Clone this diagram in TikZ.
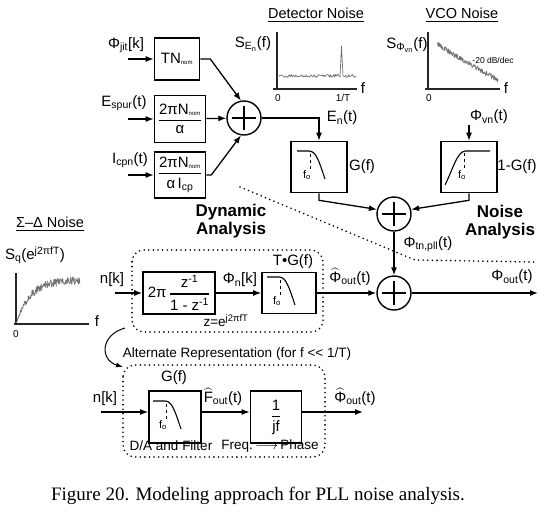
\documentclass[tikz,border=0pt]{standalone}
\usepackage{fontspec}
\setmainfont{Liberation Sans}
\newfontfamily\capfont{Liberation Serif}
\usepackage{amsmath}
\usetikzlibrary{arrows.meta}

\begin{document}
\begin{tikzpicture}[x=1pt, y=-1pt,
    every node/.style={inner sep=1pt, font=\fontsize{15}{17}\selectfont},
    blk/.style={draw, line width=1.6pt, inner sep=0pt},
    sumnode/.style={circle, draw, line width=1.4pt, minimum size=34pt, inner sep=0pt,
        path picture={\draw[line width=1.1pt]
            ([xshift=-12pt]path picture bounding box.center) -- ([xshift=12pt]path picture bounding box.center)
            ([yshift=-12pt]path picture bounding box.center) -- ([yshift=12pt]path picture bounding box.center);}},
    arr/.style={-{Latex[length=8pt,width=6pt]}, line width=1.3pt},
    thinarr/.style={-{Latex[length=7pt,width=5pt]}, line width=1pt},
    dotline/.style={line width=1.8pt, line cap=round, dash pattern=on 0pt off 4.6pt},
    axline/.style={line width=1.1pt, black!85},
    noisy/.style={black!55, line width=0.7pt, line join=round},
    ttl/.style={font=\fontsize{14.5}{16}\selectfont},
    smtxt/.style={font=\fontsize{13.5}{15}\selectfont},
    tinytxt/.style={font=\fontsize{10}{12}\selectfont},
    boldtxt/.style={font=\fontsize{17}{18}\selectfont\bfseries, align=center},
    lowpass/.pic={
        \draw[line width=1.1pt] (-22,-16) -- (-10,-16) .. controls (-3,-16) and (0,-6) .. (6,12);
        \draw[dashed, line width=0.6pt] (-9,-13) -- (-9,2);
        \node[font=\fontsize{11}{12}\selectfont] (-fo) at (-12,8) {f\textsubscript{o}};
    },
    highpass/.pic={
        \draw[line width=1.1pt] (-24,18) .. controls (-16,2) and (-12,-15) .. (-4,-16) -- (21,-16);
        \draw[dashed, line width=0.6pt] (-5,-14) -- (-5,1);
        \node[font=\fontsize{11}{12}\selectfont] (-fo) at (-7,8) {f\textsubscript{o}};
    }]
\useasboundingbox (0,0) rectangle (549,515);
\pgfmathsetseed{11}

% spectra
\node[ttl] (tdet) at (316,15) {\underline{Detector Noise}};
\node[ttl] (tvco) at (462,15) {\underline{VCO Noise}};
\node[ttl] (tsd) at (50,224) {\underline{Σ–Δ Noise}};

\draw[axline] (277,32) -- (277,89);
\draw[axline] (273,89) -- (357,89);
\node (f1) at (363,88) {f};
\node[tinytxt] (z1) at (278,98) {0};
\node[tinytxt] (t1) at (343,98) {1/T};
\node (sen) at (253,44) {S\textsubscript{E\textsubscript{n}}(f)};
\draw[noisy] plot[domain=279:340, samples=70] (\x,{76+1.6*rand}) -- (341.5,46) -- (343,76)
    -- plot[domain=344:356, samples=14] (\x,{76+1.6*rand});

\draw[axline] (428,32) -- (428,89);
\draw[axline] (425,89) -- (500,89);
\node (f2) at (506,88) {f};
\node[tinytxt] (z2) at (429,98) {0};
\node (svn) at (407,45) {S\textsubscript{Φ\textsubscript{vn}}(f)};
\draw[noisy] plot[domain=437:498, samples=180] (\x,{43+37*((\x-437)/61)^0.9+2.6*rand});
\node[font=\fontsize{8.5}{10}\selectfont] (slope) at (493,60) {-20 dB/dec};

\draw[axline] (16,273) -- (16,324);
\draw[axline] (14,324) -- (89,324);
\node (f3) at (97,321) {f};
\node[tinytxt] (z3) at (16,334) {0};
\node (sq) at (35,255) {S\textsubscript{q}(e\textsuperscript{j2πfT})};
\draw[noisy] plot[domain=16.5:80, samples=220] (\x,{324-44*(1-exp(-(\x-16)/14))+4*rand*(1-exp(-(\x-16)/6))});

% noise analysis
\node (lphi) at (126,45) {Φ\textsubscript{jit}[k]};
\node (lesp) at (124,103) {E\textsubscript{spur}(t)};
\node (licp) at (130,160) {I\textsubscript{cpn}(t)};
\coordinate (i1) at (128,59);
\coordinate (i2) at (128,119);
\coordinate (i3) at (128,175);
\node[blk, minimum width=45pt, minimum height=42pt] (tn) at (177,59) {TN{\fontsize{9}{10}\selectfont\textsubscript{nom}}};
\node[blk, minimum width=51pt, minimum height=47pt] (esp) at (180,119)
    {$\genfrac{}{}{1.2pt}{0}{\mbox{2πN{\fontsize{9}{10}\selectfont\textsubscript{nom}}}}{\mbox{α}}$};
\node[blk, minimum width=51pt, minimum height=46pt] (icp) at (180,175)
    {$\genfrac{}{}{1.2pt}{0}{\mbox{2πN{\fontsize{9}{10}\selectfont\textsubscript{nom}}}}{\mbox{α\,I\textsubscript{cp}}}$};
\node[sumnode] (s1) at (244,118) {};
\draw[arr] (i1) -- (tn);
\draw[arr] (i2) -- (esp);
\draw[arr] (i3) -- (icp);
\draw[arr] (tn.east) -- ++(10,0) -- (s1.100);
\draw[arr] (esp) -- (s1);
\draw[arr] (icp.east) -- ++(5,0) -- (s1.260);

\node[blk, minimum width=56pt, minimum height=51pt] (g) at (319,167) {};
\pic at (g) {lowpass};
\draw[arr] (s1) -| (g);
\node (len) at (342,118) {E\textsubscript{n}(t)};
\node (lg) at (362,167) {G(f)};

\node[blk, minimum width=56pt, minimum height=51pt] (vg) at (469,167) {};
\pic at (vg) {highpass};
\node (lvg) at (517,167) {1-G(f)};
\node (lvn) at (489,117) {Φ\textsubscript{vn}(t)};
\coordinate (i4) at (469,125);
\draw[arr] (i4) -- (vg);

\node[sumnode] (s2) at (394,214) {};
\node[sumnode] (s3) at (394,293) {};
\draw[arr] (g.south) -- ++(0,7) -- (s2.165);
\draw[arr] (vg.south) -- ++(0,7) -- (s2.15);
\draw[arr] (s2) -- (s3);
\node (ltn) at (428,244) {Φ\textsubscript{tn,pll}(t)};
\node[boldtxt] (lna) at (500,222) {Noise\\Analysis};
\coordinate (o1) at (538,293);
\draw[arr] (s3) -- (o1);
\node (lout) at (512,277) {Φ\textsubscript{out}(t)};

\draw[dotline] (240,187) -- (415,260) -- (535,262);

% dynamic analysis
\node[boldtxt] (lda) at (231,221) {Dynamic\\Analysis};
\draw[dotline, rounded corners=12pt] (132,250) rectangle (323,332);
\node (lnk) at (112,280) {n[k]};
\coordinate (i5) at (115,293);
\node[blk, minimum width=72pt, minimum height=42pt] (zb) at (179,293)
    {$\mbox{2π}\,\genfrac{}{}{1.2pt}{0}{\mbox{z\textsuperscript{-1}}}{\mbox{1 - z\textsuperscript{-1}}}$};
\draw[arr] (i5) -- (zb);
\node[smtxt] (lz) at (226,321) {z=e\textsuperscript{j2πfT}};
\node[blk, minimum width=54pt, minimum height=41pt] (tg) at (289,293) {};
\pic at (tg) {lowpass};
\draw[arr] (zb) -- (tg);
\node (lphn) at (240,280) {Φ\textsubscript{n}[k]};
\node (ltg) at (293,262) {T•G(f)};
\draw[arr] (tg) -- (s3);
\node (lhat) at (350,277) {$\widehat{\mbox{Φ}}$\textsubscript{out}(t)};

% alternate representation
\coordinate (c1) at (125,328);
\coordinate (c2) at (123,367);
\draw[thinarr] (c1) .. controls (100,335) and (100,360) .. (c2);
\node[smtxt] (lalt) at (237,354) {Alternate Representation (for f <{}< 1/T)};
\draw[dotline, rounded corners=12pt] (123,365) rectangle (325,457);
\node (lnk2) at (105,399) {n[k]};
\coordinate (i6) at (101,412);
\node[blk, minimum width=52pt, minimum height=52pt] (lf) at (175,417) {};
\pic at (lf) {lowpass};
\node (lg2) at (174,378) {G(f)};
\node[blk, minimum width=51pt, minimum height=52pt] (jf) at (276,417)
    {$\genfrac{}{}{1.2pt}{0}{\mbox{1}}{\mbox{jf}}$};
\coordinate (o2) at (363,412);
\draw[arr] (i6) -- (i6 -| lf.west);
\draw[arr] (i6 -| lf.east) -- (i6 -| jf.west);
\draw[arr] (i6 -| jf.east) -- (o2);
\node (lfh) at (223,397) {$\widehat{\mbox{F}}$\textsubscript{out}(t)};
\node (lph2) at (355,397) {$\widehat{\mbox{Φ}}$\textsubscript{out}(t)};
\node[smtxt] (lda2) at (171,446) {D/A and Filter};
\node[smtxt] (lfp) at (270,446) {Freq.\,$\longrightarrow$\,Phase};

\node[font=\capfont\fontsize{19}{21}\selectfont] (cap) at (258,496) {Figure 20. Modeling approach for PLL noise analysis.};
\end{tikzpicture}
\end{document}
